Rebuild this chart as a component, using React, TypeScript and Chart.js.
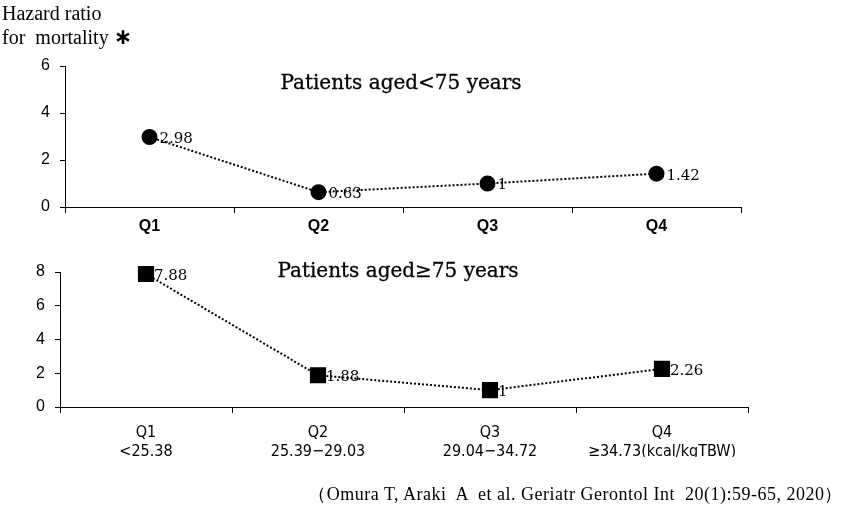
import React, { useEffect, useRef } from "react";
import { Chart, registerables } from "chart.js";

Chart.register(...registerables);

const quartilesTop = ["Q1", "Q2", "Q3", "Q4"];
const hrUnder75 = [2.98, 0.63, 1, 1.42];
const yTicksTop = [0, 2, 4, 6];

const quartilesBottom = ["Q1", "Q2", "Q3", "Q4"];
const energyRanges = ["<25.38", "25.39\u221229.03", "29.04\u221234.72", "\u226534.73(kcal/kgTBW)"];
const hr75Plus = [7.88, 1.88, 1, 2.26];
const yTicksBottom = [0, 2, 4, 6, 8];

const titleTop = "Patients aged<75 years";
const titleBottom = "Patients aged\u226575 years";
const yTitle1 = "Hazard ratio";
const yTitle2 = "for  mortality ";
const yTitleMark = "\u2217";
const citation = "\uFF08Omura T, Araki  A  et al. Geriatr Gerontol Int  20(1):59-65, 2020\uFF09";

const valueLabelPlugin = {
  id: "valueLabels",
  afterDatasetsDraw(chart: any, _args: any, opts: any) {
    const ctx = chart.ctx;
    const meta = chart.getDatasetMeta(0);
    const data = chart.data.datasets[0].data;
    ctx.save();
    ctx.font = "15px 'DejaVu Serif', serif";
    ctx.fillStyle = "#000";
    ctx.textBaseline = "middle";
    ctx.textAlign = "left";
    meta.data.forEach((pt: any, i: number) => {
      ctx.fillText(String(data[i]), pt.x + (opts.dx || 10), pt.y + (opts.dy || 2));
    });
    ctx.restore();
  },
};

function makeOptions(
  yMax: number,
  padding: any,
  yWidth: number,
  xHeight: number,
  xFont: any,
  xPad: number,
  dx: number,
  dy: number
): any {
  return {
    responsive: false,
    animation: false,
    layout: { padding },
    plugins: {
      legend: { display: false },
      tooltip: { enabled: false },
      valueLabels: { dx, dy },
    },
    scales: {
      x: {
        offset: true,
        grid: {
          offset: true,
          drawOnChartArea: false,
          tickLength: 6,
          color: "#000",
          tickColor: "#000",
        },
        border: { color: "#000", width: 1 },
        ticks: { color: "#000", font: xFont, padding: xPad, maxRotation: 0, autoSkip: false },
        afterFit: (s: any) => {
          s.height = xHeight;
        },
      },
      y: {
        min: 0,
        max: yMax,
        afterBuildTicks: (s: any) => {
          s.ticks = (yMax === 6 ? yTicksTop : yTicksBottom).map((v) => ({ value: v }));
        },
        grid: { drawOnChartArea: false, tickLength: 5, color: "#000", tickColor: "#000" },
        border: { color: "#000", width: 1 },
        ticks: { color: "#000", font: { family: "'Liberation Sans', Arial, sans-serif", size: 16 }, padding: 10 },
        afterFit: (s: any) => {
          s.width = yWidth;
        },
      },
    },
  };
}

export default function App() {
  const topRef = useRef<HTMLCanvasElement>(null);
  const botRef = useRef<HTMLCanvasElement>(null);

  useEffect(() => {
    const c1 = new Chart(topRef.current!, {
      type: "line",
      data: {
        labels: quartilesTop,
        datasets: [
          {
            data: hrUnder75,
            borderColor: "#000",
            borderWidth: 2,
            borderDash: [2, 2],
            pointStyle: "circle",
            pointRadius: 7,
            pointBackgroundColor: "#000",
            pointBorderColor: "#000",
            tension: 0,
            clip: false,
          },
        ],
      },
      options: makeOptions(
        6,
        { top: 66, right: 103, bottom: 8, left: 0 },
        65,
        35,
        { family: "'Liberation Sans', Arial, sans-serif", size: 16, weight: "bold" },
        4,
        10,
        2
      ),
      plugins: [valueLabelPlugin],
    });

    const c2 = new Chart(botRef.current!, {
      type: "line",
      data: {
        labels: quartilesBottom.map((q, i) => [q, energyRanges[i]]),
        datasets: [
          {
            data: hr75Plus,
            borderColor: "#000",
            borderWidth: 2,
            borderDash: [2, 2],
            pointStyle: "rect",
            pointRadius: 10,
            pointBackgroundColor: "#000",
            pointBorderColor: "#000",
            tension: 0,
            clip: false,
          },
        ],
      },
      options: makeOptions(
        8,
        { top: 32, right: 96, bottom: 51, left: 0 },
        60,
        50,
        { family: "'DejaVu Sans Condensed', 'DejaVu Sans', sans-serif", size: 16, lineHeight: 1.2 },
        10,
        8,
        2
      ),
      plugins: [valueLabelPlugin],
    });

    return () => {
      c1.destroy();
      c2.destroy();
    };
  }, []);

  const serif = "'Liberation Serif', 'Times New Roman', serif";
  const titleFont = "'DejaVu Serif', serif";

  return (
    <div style={{ position: "absolute", left: 0, top: 0, width: 844, height: 508, background: "#fff", overflow: "hidden" }}>
      <canvas ref={topRef} width={844} height={250} style={{ position: "absolute", left: 0, top: 0 }} />
      <canvas ref={botRef} width={844} height={268} style={{ position: "absolute", left: 0, top: 240 }} />
      <div style={{ position: "absolute", left: 2, top: 1, fontFamily: serif, fontSize: 20, lineHeight: "24px", color: "#000", whiteSpace: "pre" }}>
        {yTitle1}
        {"\n"}
        {yTitle2}
        <span style={{ fontFamily: "'DejaVu Sans', sans-serif", fontWeight: "bold", fontSize: 22 }}>{yTitleMark}</span>
      </div>
      <div style={{ position: "absolute", left: 0, width: 802, top: 69, textAlign: "center", fontFamily: titleFont, fontSize: 20, lineHeight: "26px", color: "#000", WebkitTextStroke: "0.3px #000" }}>
        {titleTop}
      </div>
      <div style={{ position: "absolute", left: 0, width: 796, top: 257, textAlign: "center", fontFamily: titleFont, fontSize: 20, lineHeight: "26px", color: "#000", WebkitTextStroke: "0.3px #000" }}>
        {titleBottom}
      </div>
      <div style={{ position: "absolute", right: 1, top: 482, fontFamily: serif, fontSize: 18, letterSpacing: "0.5px", lineHeight: "24px", color: "#000", whiteSpace: "pre" }}>
        {citation}
      </div>
    </div>
  );
}
